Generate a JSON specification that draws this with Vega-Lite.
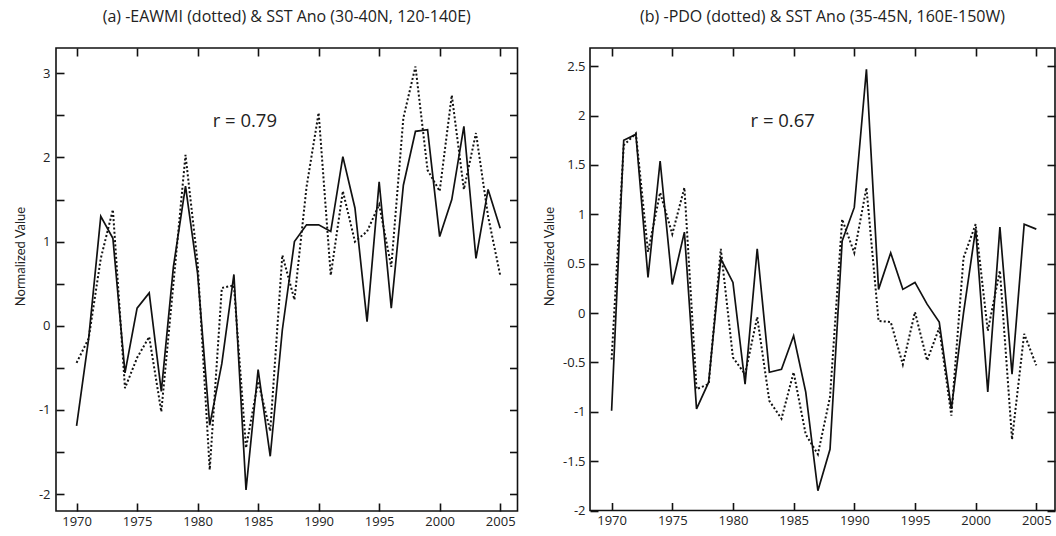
{
  "$schema": "https://vega.github.io/schema/vega-lite/v6.json",
  "padding": {"left": 13, "top": 8, "right": 0, "bottom": 0},
  "spacing": 72,
  "bounds": "flush",
  "config": {
    "font": "Open Sans",
    "view": {"stroke": "#111", "strokeWidth": 1.6},
    "axis": {"domain": false, "grid": false, "tickColor": "#111", "tickWidth": 1.6, "tickSize": -8,
             "labelFont": "Open Sans", "labelFontSize": 13, "labelColor": "#222",
             "titleFont": "Lato", "titleFontWeight": "normal", "titleFontSize": 13, "titleColor": "#222"},
    "title": {"font": "Open Sans", "fontSize": 16, "fontWeight": "normal", "color": "#222", "anchor": "middle", "offset": 22}
  },
  "datasets": {
    "a": [
      {"year": 1970, "sst": -1.19, "idx": -0.44},
      {"year": 1971, "sst": -0.15, "idx": -0.15},
      {"year": 1972, "sst": 1.30, "idx": 0.80},
      {"year": 1973, "sst": 1.04, "idx": 1.38},
      {"year": 1974, "sst": -0.56, "idx": -0.74},
      {"year": 1975, "sst": 0.21, "idx": -0.38},
      {"year": 1976, "sst": 0.39, "idx": -0.13},
      {"year": 1977, "sst": -0.78, "idx": -1.02},
      {"year": 1978, "sst": 0.70, "idx": 0.50},
      {"year": 1979, "sst": 1.66, "idx": 2.03},
      {"year": 1980, "sst": 0.62, "idx": 0.75},
      {"year": 1981, "sst": -1.18, "idx": -1.71},
      {"year": 1982, "sst": -0.45, "idx": 0.45},
      {"year": 1983, "sst": 0.61, "idx": 0.48},
      {"year": 1984, "sst": -1.95, "idx": -1.45},
      {"year": 1985, "sst": -0.52, "idx": -0.66},
      {"year": 1986, "sst": -1.55, "idx": -1.25},
      {"year": 1987, "sst": -0.05, "idx": 0.84},
      {"year": 1988, "sst": 1.00, "idx": 0.31},
      {"year": 1989, "sst": 1.20, "idx": 1.65},
      {"year": 1990, "sst": 1.20, "idx": 2.53},
      {"year": 1991, "sst": 1.12, "idx": 0.60},
      {"year": 1992, "sst": 2.01, "idx": 1.60},
      {"year": 1993, "sst": 1.40, "idx": 1.00},
      {"year": 1994, "sst": 0.05, "idx": 1.12},
      {"year": 1995, "sst": 1.71, "idx": 1.44},
      {"year": 1996, "sst": 0.21, "idx": 0.70},
      {"year": 1997, "sst": 1.67, "idx": 2.47},
      {"year": 1998, "sst": 2.31, "idx": 3.08},
      {"year": 1999, "sst": 2.33, "idx": 1.85},
      {"year": 2000, "sst": 1.06, "idx": 1.60},
      {"year": 2001, "sst": 1.50, "idx": 2.74},
      {"year": 2002, "sst": 2.37, "idx": 1.62},
      {"year": 2003, "sst": 0.80, "idx": 2.29},
      {"year": 2004, "sst": 1.62, "idx": 1.30},
      {"year": 2005, "sst": 1.16, "idx": 0.60}
    ],
    "b": [
      {"year": 1970, "sst": -0.99, "idx": -0.47},
      {"year": 1971, "sst": 1.75, "idx": 1.70},
      {"year": 1972, "sst": 1.81, "idx": 1.82},
      {"year": 1973, "sst": 0.36, "idx": 0.62},
      {"year": 1974, "sst": 1.54, "idx": 1.22},
      {"year": 1975, "sst": 0.29, "idx": 0.80},
      {"year": 1976, "sst": 0.82, "idx": 1.27},
      {"year": 1977, "sst": -0.97, "idx": -0.77},
      {"year": 1978, "sst": -0.70, "idx": -0.72},
      {"year": 1979, "sst": 0.55, "idx": 0.65},
      {"year": 1980, "sst": 0.31, "idx": -0.45},
      {"year": 1981, "sst": -0.72, "idx": -0.62},
      {"year": 1982, "sst": 0.65, "idx": -0.04},
      {"year": 1983, "sst": -0.60, "idx": -0.89},
      {"year": 1984, "sst": -0.57, "idx": -1.07},
      {"year": 1985, "sst": -0.23, "idx": -0.60},
      {"year": 1986, "sst": -0.80, "idx": -1.23},
      {"year": 1987, "sst": -1.80, "idx": -1.43},
      {"year": 1988, "sst": -1.38, "idx": -0.85},
      {"year": 1989, "sst": 0.73, "idx": 0.95},
      {"year": 1990, "sst": 1.07, "idx": 0.61},
      {"year": 1991, "sst": 2.47, "idx": 1.27},
      {"year": 1992, "sst": 0.24, "idx": -0.08},
      {"year": 1993, "sst": 0.61, "idx": -0.09},
      {"year": 1994, "sst": 0.24, "idx": -0.52},
      {"year": 1995, "sst": 0.31, "idx": 0.01},
      {"year": 1996, "sst": 0.09, "idx": -0.48},
      {"year": 1997, "sst": -0.09, "idx": -0.15},
      {"year": 1998, "sst": -0.97, "idx": -1.04},
      {"year": 1999, "sst": 0.00, "idx": 0.56},
      {"year": 2000, "sst": 0.85, "idx": 0.90},
      {"year": 2001, "sst": -0.80, "idx": -0.18},
      {"year": 2002, "sst": 0.87, "idx": 0.43},
      {"year": 2003, "sst": -0.62, "idx": -1.28},
      {"year": 2004, "sst": 0.90, "idx": -0.21},
      {"year": 2005, "sst": 0.85, "idx": -0.53}
    ]
  },
  "hconcat": [
    {
      "width": 461.5,
      "height": 463,
      "title": {"text": "(a) -EAWMI (dotted) & SST Ano (30-40N, 120-140E)"},
      "data": {"name": "a"},
      "resolve": {"axis": {"x": "independent", "y": "independent"}},
      "layer": [
        {
          "mark": {"type": "line", "color": "#111", "strokeWidth": 1.7},
          "encoding": {
            "x": {"field": "year", "type": "quantitative",
                  "scale": {"domain": [1968.3, 2006.43], "nice": false, "zero": false},
                  "axis": {"orient": "bottom", "values": [1970, 1975, 1980, 1985, 1990, 1995, 2000, 2005], "format": "d", "labelPadding": 12, "title": null}},
            "y": {"field": "sst", "type": "quantitative",
                  "scale": {"domain": [-2.2, 3.3], "nice": false, "zero": false},
                  "axis": {"orient": "left", "values": [-2, -1.5, -1, -0.5, 0, 0.5, 1, 1.5, 2, 2.5, 3],
                           "labelExpr": "datum.value % 1 === 0 ? toString(datum.value) : ''",
                           "labelPadding": 14, "title": "Normalized Value",
                           "titleX": -31.5, "titleY": 208, "titleBaseline": "alphabetic", "titleAngle": -90}}
          }
        },
        {
          "mark": {"type": "line", "color": "#111", "strokeWidth": 2, "strokeDash": [2, 2.2]},
          "encoding": {
            "x": {"field": "year", "type": "quantitative",
                  "scale": {"domain": [1968.3, 2006.43], "nice": false, "zero": false},
                  "axis": {"orient": "top", "values": [1970, 1975, 1980, 1985, 1990, 1995, 2000, 2005], "labels": false, "title": null}},
            "y": {"field": "idx", "type": "quantitative",
                  "scale": {"domain": [-2.2, 3.3], "nice": false, "zero": false},
                  "axis": {"orient": "right", "values": [-2, -1.5, -1, -0.5, 0, 0.5, 1, 1.5, 2, 2.5, 3], "labels": false, "title": null}}
          }
        },
        {
          "data": {"values": [{"year": 1983.9, "v": 2.43, "t": "r = 0.79"}]},
          "mark": {"type": "text", "font": "Open Sans", "fontSize": 18.5, "color": "#222"},
          "encoding": {
            "x": {"field": "year", "type": "quantitative", "scale": {"domain": [1968.3, 2006.43], "nice": false, "zero": false}, "axis": null},
            "y": {"field": "v", "type": "quantitative", "scale": {"domain": [-2.2, 3.3], "nice": false, "zero": false}, "axis": null},
            "text": {"field": "t"}
          }
        }
      ]
    },
    {
      "width": 465,
      "height": 462.5,
      "title": {"text": "(b) -PDO (dotted) & SST Ano (35-45N, 160E-150W)"},
      "data": {"name": "b"},
      "resolve": {"axis": {"x": "independent", "y": "independent"}},
      "layer": [
        {
          "mark": {"type": "line", "color": "#111", "strokeWidth": 1.7},
          "encoding": {
            "x": {"field": "year", "type": "quantitative",
                  "scale": {"domain": [1968.22, 2006.54], "nice": false, "zero": false},
                  "axis": {"orient": "bottom", "values": [1970, 1975, 1980, 1985, 1990, 1995, 2000, 2005], "format": "d", "labelPadding": 12, "title": null}},
            "y": {"field": "sst", "type": "quantitative",
                  "scale": {"domain": [-2, 2.685], "nice": false, "zero": false},
                  "axis": {"orient": "left", "values": [-2, -1.5, -1, -0.5, 0, 0.5, 1, 1.5, 2, 2.5],
                           "labelExpr": "toString(datum.value)",
                           "labelPadding": 13, "title": "Normalized Value",
                           "titleX": -37, "titleY": 208, "titleBaseline": "alphabetic", "titleAngle": -90}}
          }
        },
        {
          "mark": {"type": "line", "color": "#111", "strokeWidth": 2, "strokeDash": [2, 2.2]},
          "encoding": {
            "x": {"field": "year", "type": "quantitative",
                  "scale": {"domain": [1968.22, 2006.54], "nice": false, "zero": false},
                  "axis": {"orient": "top", "values": [1970, 1975, 1980, 1985, 1990, 1995, 2000, 2005], "labels": false, "title": null}},
            "y": {"field": "idx", "type": "quantitative",
                  "scale": {"domain": [-2, 2.685], "nice": false, "zero": false},
                  "axis": {"orient": "right", "values": [-2, -1.5, -1, -0.5, 0, 0.5, 1, 1.5, 2, 2.5], "labels": false, "title": null}}
          }
        },
        {
          "data": {"values": [{"year": 1984.1, "v": 1.95, "t": "r = 0.67"}]},
          "mark": {"type": "text", "font": "Open Sans", "fontSize": 18.5, "color": "#222"},
          "encoding": {
            "x": {"field": "year", "type": "quantitative", "scale": {"domain": [1968.22, 2006.54], "nice": false, "zero": false}, "axis": null},
            "y": {"field": "v", "type": "quantitative", "scale": {"domain": [-2, 2.685], "nice": false, "zero": false}, "axis": null},
            "text": {"field": "t"}
          }
        }
      ]
    }
  ]
}
